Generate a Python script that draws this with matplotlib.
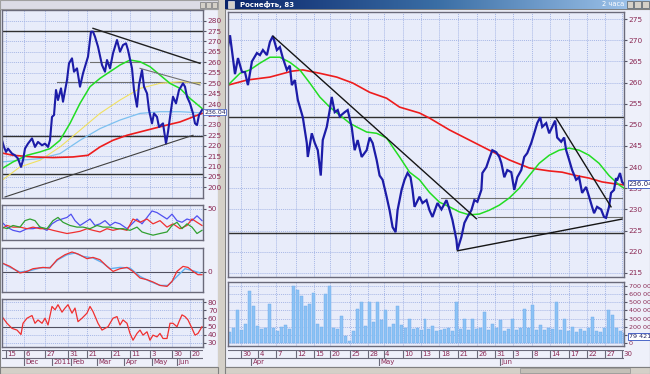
import numpy as np
import matplotlib
matplotlib.use('Agg')
import matplotlib.pyplot as plt
from matplotlib.patches import Rectangle
from matplotlib.ticker import FuncFormatter

# ---------------- data: right (main) window, 2-hour bars ----------------
main_x = [0, 2, 7, 10, 14, 17, 20, 24, 29, 32, 35, 39, 42, 45, 49, 52, 55, 59, 62, 64,
          67, 70, 75, 77, 79, 80, 84, 87, 90, 93, 95, 99, 102, 104, 107, 110, 112, 117,
          120, 124, 127, 130, 134, 139, 142, 145, 149, 152, 155, 159, 162, 165, 168,
          170, 174, 177, 180, 183, 185, 187, 192, 195, 199, 202, 205, 210, 214, 219,
          222, 225, 229, 230, 234, 237, 240, 244, 247, 250, 254, 255, 259, 262, 265,
          269, 272, 274, 277, 280, 284, 287, 290, 294, 297, 300, 304, 307, 310, 313,
          315, 319, 322, 325, 328, 330, 334, 337, 339, 342, 345, 349, 352, 355, 359,
          362, 365, 367, 370, 374, 377, 379, 382, 384, 387, 389, 390, 393, 395, 397]
main_close = [268.5, 271.2, 262.0, 265.8, 262.5, 262.5, 259.4, 265.0, 267.0, 266.5,
              267.7, 266.5, 269.6, 271.0, 267.7, 268.4, 265.8, 263.0, 264.0, 259.4,
              260.6, 255.9, 251.8, 248.8, 245.7, 242.4, 248.0, 245.7, 244.0, 238.0,
              246.4, 249.5, 253.5, 256.6, 253.0, 253.5, 252.0, 253.0, 253.5, 249.5,
              244.0, 246.4, 242.4, 244.0, 247.0, 245.7, 241.7, 238.0, 237.0, 233.0,
              229.8, 225.8, 224.6, 229.8, 234.6, 237.0, 238.6, 237.6, 234.6, 230.6,
              233.0, 231.5, 232.2, 229.8, 228.2, 231.5, 230.0, 232.2, 230.0, 227.5,
              222.8, 220.4, 223.5, 226.8, 228.2, 229.8, 232.2, 231.8, 234.6, 238.6,
              240.0, 242.1, 244.0, 243.5, 242.4, 241.0, 237.6, 239.3, 238.8, 234.6,
              237.6, 239.3, 242.4, 243.3, 245.7, 248.0, 250.4, 251.8, 249.5, 250.4,
              248.0, 249.5, 251.0, 247.0, 246.0, 247.0, 244.0, 241.7, 239.3, 237.0,
              237.6, 233.9, 235.3, 233.0, 230.6, 229.1, 230.6, 230.0, 228.2, 228.0,
              230.6, 233.9, 234.6, 237.4, 236.8, 238.6, 236.5, 236.0]

main_red_x = [0, 19, 42, 64, 75, 92, 109, 125, 142, 159, 172, 192, 202, 222, 242, 262,
              282, 302, 322, 335, 349, 362, 375, 389, 397]
main_red = [259.4, 260.6, 261.3, 262.7, 263.0, 262.2, 261.3, 259.9, 257.7, 256.3, 254.2,
            252.8, 251.6, 248.8, 246.4, 244.0, 241.7, 239.8, 239.1, 238.8, 238.0, 237.4,
            236.5, 236.0, 235.8]
main_green_x = [0, 12, 22, 32, 42, 52, 62, 72, 82, 92, 102, 112, 122, 129, 139, 149, 159,
                165, 172, 182, 192, 202, 212, 222, 232, 242, 252, 262, 272, 282, 292, 302,
                312, 322, 332, 342, 352, 362, 372, 382, 392, 397]
main_green = [259.4, 262.2, 263.0, 264.6, 266.0, 266.0, 264.8, 263.0, 259.9, 256.6, 254.2,
              252.3, 250.4, 249.5, 248.3, 248.0, 246.9, 244.8, 242.4, 238.8, 237.0, 234.0,
              231.7, 230.6, 229.4, 228.7, 228.9, 229.8, 231.0, 232.7, 235.0, 238.0, 240.9,
              242.8, 244.0, 244.5, 244.0, 242.8, 240.9, 238.0, 235.8, 235.0]

main_volume_x = list(range(0, 400, 4))
main_volume = [130, 180, 400, 160, 230, 640, 450, 210, 170, 190, 480, 180, 150, 200, 220,
               170, 700, 650, 580, 450, 480, 620, 230, 200, 600, 700, 190, 170, 330, 90,
               20, 150, 420, 500, 210, 500, 260, 500, 280, 400, 200, 230, 460, 220, 180,
               300, 170, 190, 160, 300, 170, 210, 150, 160, 170, 190, 150, 500, 170, 300,
               160, 300, 170, 190, 380, 160, 230, 180, 280, 150, 170, 300, 160, 190, 420,
               180, 470, 160, 220, 160, 190, 170, 500, 160, 300, 150, 200, 140, 170, 150,
               180, 320, 150, 140, 190, 400, 350, 180, 150, 120]

main_levels = [251.8, 224.4]
main_day_pos = [13, 30, 48, 68, 86, 102, 122, 140, 156, 175, 193, 212, 231, 250, 268,
                286, 305, 323, 342, 360, 378, 395]
main_day_lbl = ['30', '4', '7', '12', '15', '20', '25', '28', '4', '10', '13', '18', '21',
                '26', '31', '3', '8', '14', '17', '22', '27', '30']
main_month_pos = [23, 151, 273]
main_month_lbl = ['Apr', 'May', 'Jun']

# ---------------- data: left window, daily bars ----------------
left_x = [0, 2, 4, 6, 10, 13, 16, 19, 21, 23, 26, 30, 33, 36, 40, 43, 46, 48, 50, 52,
          54, 56, 59, 61, 65, 67, 70, 72, 75, 78, 81, 84, 86, 89, 91, 93, 96, 100, 103,
          105, 108, 111, 115, 118, 121, 124, 126, 130, 132, 135, 137, 140, 142, 145,
          147, 150, 152, 155, 157, 161, 164, 166, 169, 171, 174, 177, 181, 183, 185,
          188, 191, 193, 195, 197, 200]
left_close = [222.6, 219.4, 217.0, 218.6, 216.2, 215.4, 213.8, 209.8, 213.0, 218.6, 221.0,
              223.5, 219.4, 221.8, 220.2, 221.0, 219.4, 222.6, 233.8, 234.7, 246.7, 241.9,
              247.5, 241.1, 251.5, 259.5, 261.9, 255.5, 257.1, 248.3, 254.7, 259.5, 262.7,
              274.7, 274.7, 272.3, 267.5, 258.7, 255.5, 261.1, 257.1, 264.3, 270.7, 265.1,
              268.3, 269.1, 265.9, 257.1, 246.7, 238.7, 249.1, 256.3, 248.3, 245.1, 237.1,
              230.7, 235.5, 233.8, 229.0, 230.7, 221.0, 226.6, 237.1, 243.5, 240.3, 246.7,
              249.9, 248.3, 243.5, 240.3, 235.5, 230.7, 229.9, 234.7, 237.1]
left_red_x = [0, 11, 31, 51, 71, 86, 98, 111, 125, 138, 151, 165, 178, 191, 200]
left_red = [216.5, 215.4, 214.6, 214.3, 214.6, 215.4, 219.4, 222.6, 225.0, 226.6, 228.2,
            229.9, 231.4, 233.8, 235.5]
left_green_x = [0, 11, 25, 38, 48, 58, 68, 78, 88, 98, 108, 118, 128, 138, 148, 158, 168,
                178, 188, 198, 201]
left_green = [209.0, 212.2, 215.4, 217.0, 218.6, 222.6, 230.7, 240.3, 248.3, 252.3, 255.5,
              258.7, 261.1, 260.3, 257.9, 253.9, 249.9, 247.5, 242.7, 238.7, 237.5]
left_yellow_x = [0, 18, 38, 58, 78, 98, 118, 138, 158, 178, 198]
left_yellow = [203.4, 209.8, 213.0, 219.4, 227.4, 235.5, 241.9, 247.5, 249.9, 250.7, 249.9]
left_blue_x = [0, 18, 38, 58, 78, 98, 118, 138, 158, 178, 198]
left_blue = [212.2, 213.0, 213.8, 216.2, 222.6, 228.2, 232.3, 235.5, 236.3, 236.3, 235.8]
left_levels = [275.0, 224.6, 206.6]

# directional movement panel
dmi_x = [0, 5, 11, 18, 25, 31, 38, 45, 50, 55, 60, 65, 69, 73, 78, 83, 88, 93, 98, 103,
         108, 113, 118, 125, 130, 135, 140, 145, 150, 155, 160, 165, 170, 175, 180, 185,
         190, 195, 200]
dmi_plus = [31.8, 25.3, 21.0, 18.8, 23.2, 23.2, 25.3, 21.0, 29.7, 34.0, 36.2, 38.3, 42.7,
            34.0, 27.5, 31.8, 36.2, 27.5, 29.7, 34.0, 27.5, 31.8, 29.7, 23.2, 29.7, 36.2,
            29.7, 38.3, 47.0, 44.8, 40.5, 36.2, 42.7, 34.0, 31.8, 36.2, 34.0, 40.5, 34.0]
osc_x = [0, 5, 11, 18, 25, 31, 38, 45, 51, 58, 65, 71, 78, 85, 91, 98, 105, 111, 118,
         125, 131, 138, 145, 151, 158, 165, 171, 178, 185, 190, 195, 200]
dmi_minus = [23.2, 27.5, 25.3, 25.3, 23.2, 25.3, 23.2, 23.2, 21.0, 18.8, 16.7, 18.0,
             19.7, 23.2, 21.0, 18.8, 23.2, 21.0, 23.2, 21.0, 36.2, 31.8, 36.2, 29.7,
             34.0, 25.3, 29.7, 23.2, 27.5, 36.2, 31.8, 27.5]
adx_x = [0, 5, 11, 18, 23, 28, 33, 38, 45, 51, 56, 61, 68, 75, 81, 88, 95, 101, 108, 115,
         121, 128, 135, 140, 145, 151, 158, 165, 170, 175, 180, 185, 190, 195, 200]
adx = [25.3, 23.2, 27.5, 25.3, 34.0, 36.2, 34.0, 25.3, 23.2, 34.0, 38.3, 31.8, 27.5,
       25.3, 25.3, 23.2, 27.5, 25.3, 25.3, 23.2, 23.2, 21.0, 25.3, 18.8, 16.7, 14.5, 16.7,
       18.8, 27.5, 31.8, 23.2, 29.7, 25.3, 16.7, 21.0]

# MACD panel
macd_x = [0, 8, 18, 25, 31, 41, 48, 55, 63, 70, 76, 85, 91, 98, 105, 111, 118, 125, 131,
          138, 145, 151, 158, 165, 170, 175, 181, 186, 191, 196, 200]
macd = [0.90, 0.56, -0.10, 0.06, 0.33, 0.46, 0.40, 1.23, 1.73, 2.00, 1.80, 1.33, 1.46,
        1.23, 0.56, 0.06, 0.33, 0.46, 0.06, -0.60, -0.77, -1.00, -1.34, -1.44, -0.94,
        0.06, 0.56, 0.46, 0.06, -0.27, -0.27]
signal_x = [0, 8, 18, 28, 38, 48, 56, 65, 73, 81, 91, 101, 108, 118, 128, 138, 148, 158,
            166, 175, 183, 191, 198]
signal = [0.90, 0.46, 0.00, 0.13, 0.40, 0.46, 1.23, 1.73, 1.90, 1.56, 1.40, 0.90, 0.33,
          0.46, 0.40, -0.44, -0.94, -1.34, -1.34, -0.44, 0.33, 0.13, -0.10]

# RSI panel
rsi_x = [0, 5, 10, 15, 19, 21, 25, 30, 33, 36, 40, 43, 46, 50, 53, 56, 60, 63, 66, 70,
         73, 76, 80, 85, 88, 91, 96, 100, 103, 106, 111, 115, 118, 121, 125, 128, 131,
         135, 138, 141, 145, 148, 151, 155, 158, 161, 165, 168, 171, 175, 177, 180, 183,
         186, 190, 193, 196, 200]
rsi = [62.2, 54.0, 47.8, 45.7, 40.3, 54.0, 60.2, 63.5, 54.0, 58.1, 54.0, 60.2, 51.9,
       74.6, 70.5, 76.7, 67.6, 72.6, 76.7, 66.4, 72.6, 56.0, 60.2, 66.4, 74.6, 68.4, 54.0,
       45.7, 47.8, 49.8, 60.2, 62.2, 51.9, 58.1, 54.0, 41.6, 33.3, 41.6, 45.7, 39.5, 43.6,
       33.3, 39.5, 37.4, 41.6, 35.4, 35.4, 54.0, 54.0, 49.8, 56.0, 64.3, 62.2, 58.1, 47.8,
       39.5, 41.6, 49.8]

left_day_pos = [4, 22, 43, 66, 85, 109, 128, 148, 170, 188]
left_day_lbl = ['15', '6', '27', '31', '21', '21', '11', '3', '30', '20']
left_month_pos = [22, 50, 69, 95, 122, 150, 175]
left_month_lbl = ['Dec', '2011', 'Feb', 'Mar', 'Apr', 'May', 'Jun']

# ---------------- layout helpers ----------------
W, H = 650, 374
fig = plt.figure(figsize=(W / 100, H / 100), dpi=100)
fig.patch.set_facecolor('#d4d0c8')

TXT = '#8b2a55'
GRID = '#a7b7e6'
BG = '#e8ecfa'


def rect(x0, y0, x1, y1):
    return [x0 / W, 1 - y1 / H, (x1 - x0) / W, (y1 - y0) / H]


def box(x0, y0, x1, y1, fc, ec='none', lw=0.8, z=-5):
    fig.patches.append(Rectangle((x0 / W, 1 - y1 / H), (x1 - x0) / W, (y1 - y0) / H,
                                 transform=fig.transFigure, facecolor=fc,
                                 edgecolor=ec, linewidth=lw, zorder=z))


def panel(r, xlim, ylim, xt, yt, ylabels=True, fs=5.3):
    ax = fig.add_axes(rect(*r))
    ax.set_facecolor(BG)
    ax.set_xlim(*xlim)
    ax.set_ylim(*ylim)
    ax.set_xticks(xt)
    ax.set_yticks(yt)
    ax.grid(True, color=GRID, linestyle=(0, (1, 1)), linewidth=0.7)
    ax.set_axisbelow(True)
    ax.tick_params(axis='x', length=0, labelbottom=False)
    ax.yaxis.tick_right()
    ax.tick_params(axis='y', length=2, labelsize=fs, labelcolor=TXT, pad=1.5,
                   color='#555566', labelright=ylabels)
    for s in ax.spines.values():
        s.set_color('#6a6a7a')
        s.set_linewidth(1.0)
    return ax


def date_axis(r, xlim, day_pos, day_lbl, mon_pos, mon_lbl):
    ax = fig.add_axes(rect(*r))
    ax.set_facecolor('#eef0fa')
    ax.set_xlim(*xlim)
    ax.set_ylim(0, 2)
    ax.set_xticks([])
    ax.set_yticks([])
    for s in ax.spines.values():
        s.set_visible(False)
    ax.axhline(2, color='#6a6a7a', lw=0.8)
    ax.axhline(1.05, color='#6a6a7a', lw=0.8)
    ax.axhline(0.02, color='#9a9aaa', lw=0.6)
    ax.vlines(day_pos, 1.05, 2, color='#6a6a7a', lw=0.8)
    ax.vlines(mon_pos, 0, 1.05, color='#6a6a7a', lw=0.8)
    for p, t in zip(day_pos, day_lbl):
        ax.text(p + 1.5, 1.5, t, fontsize=5, color=TXT, va='center', ha='left')
    for p, t in zip(mon_pos, mon_lbl):
        ax.text(p + 1.5, 0.5, t, fontsize=5, color=TXT, va='center', ha='left')
    return ax


# ---------------- window chrome ----------------
box(0, 9, 218, 367, '#eef0fa', '#808080')
box(225, 9, 650, 367, '#eef0fa', '#808080')
box(218, 0, 225, 374, '#d4d0c8')
grad = np.linspace(0, 1, 256).reshape(1, -1)
tb = fig.add_axes(rect(225, 0, 650, 9))
tb.imshow(grad, aspect='auto', cmap=matplotlib.colors.LinearSegmentedColormap.from_list(
    'tb', ['#0a246a', '#3a6ea5', '#a6caf0']), extent=(0, 1, 0, 1))
tb.set_axis_off()
tb.text(0.035, 0.5, 'Роснефть, 83', color='white', fontsize=5, va='center', fontweight='bold')
tb.text(0.94, 0.5, '2 часа', color='white', fontsize=4.8, va='center', ha='right')
tb.add_patch(Rectangle((0.008, 0.15), 0.014, 0.7, facecolor='#d4d0c8', edgecolor='white', lw=0.4))
for bx in (0.945, 0.963, 0.981):
    tb.add_patch(Rectangle((bx, 0.1), 0.016, 0.8, facecolor='#d4d0c8', edgecolor='#404040', lw=0.4))
box(0, 0, 218, 9, '#dcdce6', '#a0a0a0')
for bx in (200, 206, 212):
    box(bx, 1.5, bx + 5, 7.5, '#d4d0c8', '#606060', 0.4, z=-4)
box(0, 367, 218, 374, '#d4d0c8', '#808080')
box(225, 367, 650, 374, '#d4d0c8', '#808080')
box(520, 368, 630, 373, '#c4c0b8', '#909090', 0.5, z=-4)

# ---------------- right window: price ----------------
ax = panel((228, 12, 624, 277), (0, 397), (214, 276.7), main_day_pos, range(215, 280, 5))
ax.axhline(main_levels[0], color='#303030', lw=1.0)
ax.axhline(main_levels[1], color='#303030', lw=1.0)
ax.plot([214, 395], [232.7, 232.7], color='#707070', lw=0.8)
ax.plot([251, 395], [228.2, 228.2], color='#707070', lw=0.8)
ax.plot(main_red_x, main_red, color='#ee1c1c', lw=1.2)
ax.plot(main_green_x, main_green, color='#22dd22', lw=1.1)
ax.plot(main_x, main_close, color='#1c1ca8', lw=1.6, solid_joinstyle='miter')
ax.plot([45, 249], [271.0, 227.8], color='#151515', lw=1.0)
ax.plot([329, 384], [251.6, 230.6], color='#151515', lw=1.0)
ax.plot([230, 395], [220.2, 227.7], color='#151515', lw=1.0)
ax.text(1.012, 236.04, '236.04', transform=ax.get_yaxis_transform(), fontsize=5,
        color='#202060', va='center', ha='left',
        bbox=dict(boxstyle='square,pad=0.15', fc='white', ec='#3050c0', lw=0.6))

# volume
axv = panel((228, 282, 624, 346), (0, 397), (-37, 750), main_day_pos, range(0, 800, 100),
            fs=4.6)
axv.yaxis.set_major_formatter(FuncFormatter(lambda v, p: '0' if v == 0 else f'{int(v)} 000'))
axv.bar(main_volume_x, main_volume, width=3.0, align='edge', color='#8cc2f4',
        edgecolor='#6aa8ec', linewidth=0.3)
axv.text(1.012, 79, '79 421', transform=axv.get_yaxis_transform(), fontsize=4.6,
         color='#202060', va='center', ha='left',
         bbox=dict(boxstyle='square,pad=0.15', fc='white', ec='#3050c0', lw=0.6))

date_axis((228, 350, 624, 366), (0, 397), main_day_pos, main_day_lbl,
          main_month_pos, main_month_lbl)

# ---------------- left window: price ----------------
axl = panel((2, 10, 203, 198), (0, 201), (194.9, 285.1), left_day_pos, range(200, 285, 5))
for lv in left_levels:
    axl.axhline(lv, color='#303030', lw=1.0)
axl.plot([88, 198], [260.3, 260.3], color='#707070', lw=0.8)
axl.plot([55, 198], [250.7, 250.7], color='#707070', lw=0.8)
axl.plot(left_yellow_x, left_yellow, color='#f0e060', lw=0.8)
axl.plot(left_blue_x, left_blue, color='#7cc0f0', lw=0.9)
axl.plot(left_red_x, left_red, color='#ee1c1c', lw=1.2)
axl.plot(left_green_x, left_green, color='#22dd22', lw=1.1)
axl.plot(left_x, left_close, color='#1c1ca8', lw=1.5)
axl.plot([91, 198], [276.3, 259.5], color='#202020', lw=1.0)
axl.plot([138, 198], [257.1, 249.1], color='#707070', lw=0.8)
axl.plot([3, 191], [195.4, 225.0], color='#404040', lw=0.8)
axl.text(1.005, 236.04, '236.04', transform=axl.get_yaxis_transform(), fontsize=4.5,
         color='#202060', va='center', ha='left',
         bbox=dict(boxstyle='square,pad=0.1', fc='white', ec='#3050c0', lw=0.5))

axa = panel((2, 205, 203, 240), (0, 201), (8, 55), left_day_pos, [50])
axa.plot(dmi_x, dmi_plus, color='#5050f0', lw=0.9)
axa.plot(osc_x, dmi_minus, color='#f03030', lw=0.9)
axa.plot(adx_x, adx, color='#30a030', lw=0.9)

axb = panel((2, 248, 203, 292), (0, 201), (-2.0, 2.4), left_day_pos, [0])
axb.axhline(0, color='#505060', lw=0.8)
axb.plot(signal_x, signal, color='#60b0f0', lw=1.0)
axb.plot(macd_x, macd, color='#f03030', lw=0.9)

axc = panel((2, 299, 203, 347), (0, 201), (25, 83.7), left_day_pos, range(30, 90, 10))
axc.axhline(50, color='#505060', lw=0.8)
axc.plot(rsi_x, rsi, color='#f03030', lw=0.9)

date_axis((2, 350, 203, 366), (0, 201), left_day_pos, left_day_lbl,
          left_month_pos, left_month_lbl)

fig.savefig('out.png', dpi=100, facecolor=fig.get_facecolor())
